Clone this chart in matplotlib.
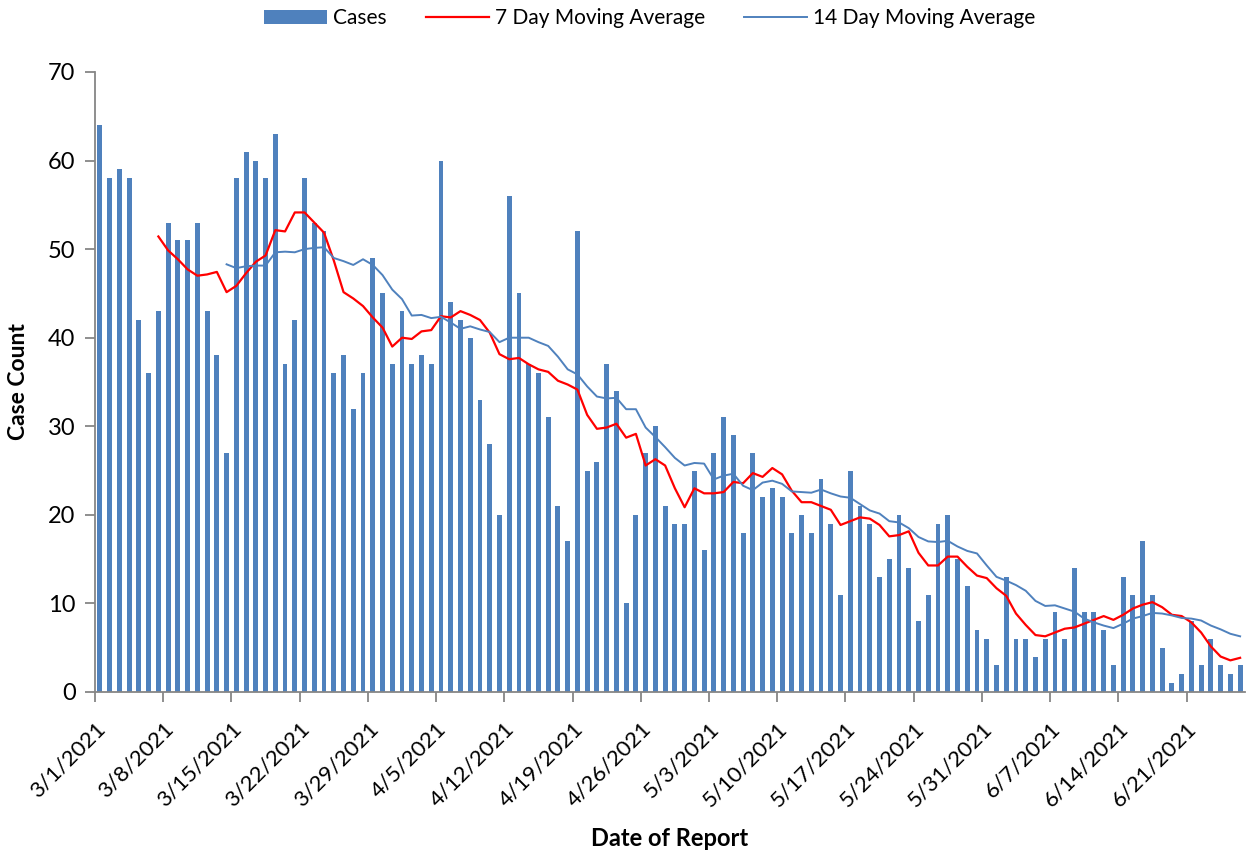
import matplotlib.pyplot as plt
import numpy as np
import pandas as pd

plt.rcParams["font.family"] = ["Lato", "DejaVu Sans"]

# daily cases, 3/1/2021 .. 6/26/2021
MARCH = [64, 58, 59, 58, 42, 36, 43, 53, 51, 51, 53, 43, 38, 27, 58, 61, 60, 58, 63, 37,
         42, 58, 53, 52, 36, 38, 32, 36, 49, 45, 37]
APRIL = [43, 37, 38, 37, 60, 44, 42, 40, 33, 28, 20, 56, 45, 37, 36, 31, 21, 17, 52, 25,
         26, 37, 34, 10, 20, 27, 30, 21, 19, 19]
MAY = [25, 16, 27, 31, 29, 18, 27, 22, 23, 22, 18, 20, 18, 24, 19, 11, 25, 21, 19, 13,
       15, 20, 14, 8, 11, 19, 20, 15, 12, 7, 6]
JUNE = [3, 13, 6, 6, 4, 6, 9, 6, 14, 9, 9, 7, 3, 13, 11, 17, 11, 5, 1, 2,
        8, 3, 6, 3, 2, 3]

cases = pd.Series(MARCH + APRIL + MAY + JUNE, dtype=float)
dates = pd.date_range("2021-03-01", periods=len(cases), freq="D")
# the two lines are the chart's own trailing averages of the daily counts
ma7 = cases.rolling(7).mean()
ma14 = cases.rolling(14).mean()

BLUE, RED, GREY = "#4F81BD", "#FF0000", "#868686"

fig = plt.figure(figsize=(12.52, 8.56), dpi=100)
ax = fig.add_axes([0.0759, 0.1916, 0.9185, 0.7243])

x = np.arange(len(cases))
bars = ax.bar(x, cases, width=0.5, color=BLUE, label="Cases", zorder=2)
l7, = ax.plot(x, ma7, color=RED, lw=1.6, label="7 Day Moving Average", zorder=3)
l14, = ax.plot(x, ma14, color=BLUE, lw=1.4, label="14 Day Moving Average", zorder=3)

ax.set_xlim(-0.5, len(cases) - 0.5)
ax.set_ylim(0, 70)
ax.set_yticks(range(0, 71, 10))
ticks = np.arange(0, len(cases), 7)
ax.set_xticks(ticks - 0.5)
ax.set_xticklabels([f"{d.month}/{d.day}/{d.year}" for d in dates[ticks]],
                   rotation=45, ha="right", rotation_mode="anchor")

for s in ["top", "right"]:
    ax.spines[s].set_visible(False)
for s in ["left", "bottom"]:
    ax.spines[s].set_color(GREY)
    ax.spines[s].set_linewidth(1.3)
ax.tick_params(axis="both", colors=GREY, length=7, width=1.3, labelcolor="black",
               labelsize=17)
ax.tick_params(axis="x", labelsize=16, pad=12)
ax.tick_params(axis="y", pad=7)

ax.set_ylabel("Case Count", fontsize=16.5, fontweight="bold", labelpad=14)
ax.set_xlabel("Date of Report", fontsize=17, fontweight="bold", va="center")
ax.xaxis.set_label_coords(0.5, -0.2355)

fig.legend(handles=[bars, l7, l14], loc="upper center", bbox_to_anchor=(0.519, 1.012),
           ncol=3, frameon=False, fontsize=15, handlelength=3.0, columnspacing=1.9,
           handletextpad=0.3)

fig.savefig("out.png", dpi=100)
